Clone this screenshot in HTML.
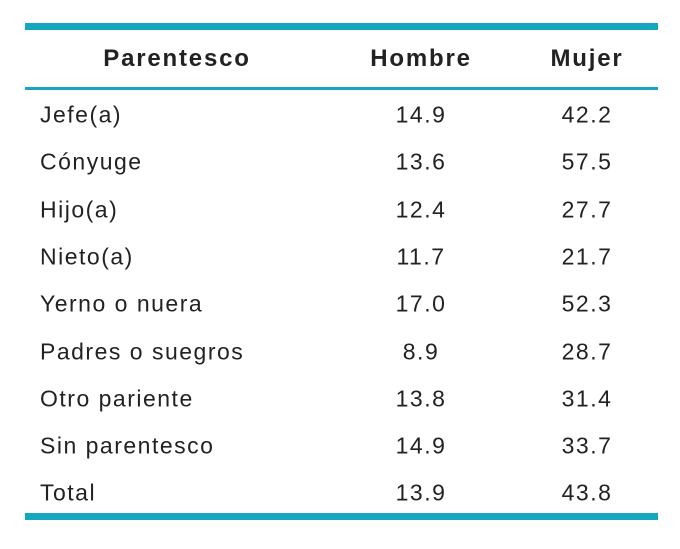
<!DOCTYPE html>
<html><head><meta charset="utf-8"><style>
body{margin:0;width:680px;height:549px;background:#fff;position:relative;font-family:"Liberation Sans",sans-serif;color:#222;overflow:hidden}
.line{position:absolute;left:25px;width:633px;background:#14a7bf}
.t{position:absolute;white-space:nowrap;line-height:1;transform:translateY(-50%)}
.h{font-weight:bold;font-size:24px;letter-spacing:1.8px}
.b{font-size:23px;letter-spacing:1.5px}
.c{transform:translate(-50%,-50%)}
</style></head><body>
<div class="line" style="top:23px;height:7px"></div>
<div class="line" style="top:87px;height:3px"></div>
<div class="line" style="top:513px;height:7px"></div>
<div class="t h c" style="left:177px;top:59px">Parentesco</div>
<div class="t h c" style="left:421px;top:59px">Hombre</div>
<div class="t h c" style="left:587px;top:59px">Mujer</div>
<div id="rows"></div>
<script>
const labels=["Jefe(a)","Cónyuge","Hijo(a)","Nieto(a)","Yerno o nuera","Padres o suegros","Otro pariente","Sin parentesco","Total"];
const hombre=["14.9","13.6","12.4","11.7","17.0","8.9","13.8","14.9","13.9"];
const mujer=["42.2","57.5","27.7","21.7","52.3","28.7","31.4","33.7","43.8"];
const rows=document.getElementById('rows');
labels.forEach((l,i)=>{
  const y=115+i*47.3;
  const a=document.createElement('div');a.className='t b';a.style.left='40px';a.style.top=y+'px';a.textContent=l;
  
  
  const h=document.createElement('div');h.className='t b c';h.style.left='421px';h.style.top=y+'px';h.textContent=hombre[i];
  
  
  const m=document.createElement('div');m.className='t b c';m.style.left='587px';m.style.top=y+'px';m.textContent=mujer[i];
  
  
  rows.append(a,h,m);
});
</script>
</body></html>
